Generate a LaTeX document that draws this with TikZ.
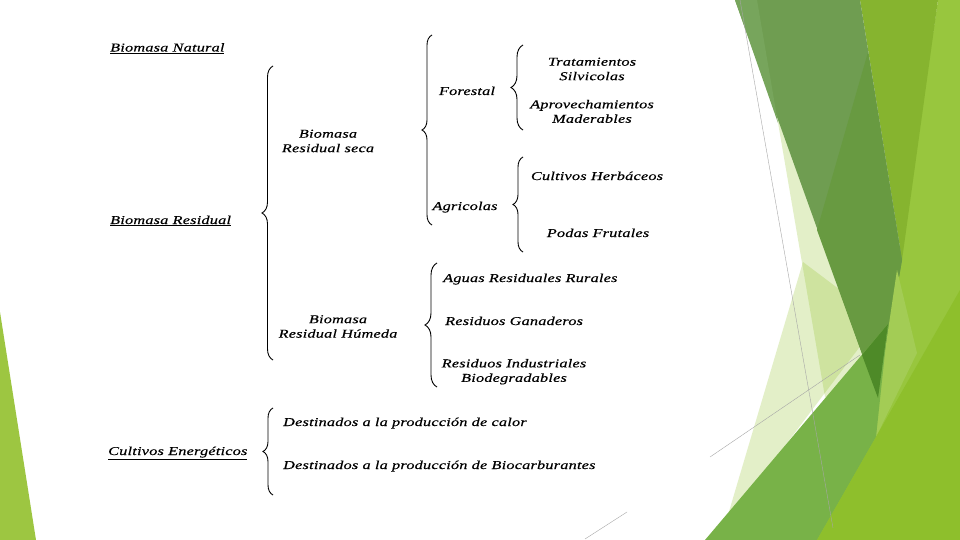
\documentclass[tikz,border=0pt]{standalone}
\usepackage{fontspec}
\setmainfont{Liberation Serif}
\newfontfamily\slidefont[FakeStretch=1.35, LetterSpace=2, FakeBold=0.4]{Liberation Serif}
\usetikzlibrary{decorations.pathreplacing}

\definecolor{leftgreen}{HTML}{9DC641}
\definecolor{midgreen}{HTML}{6F9D51}
\definecolor{midlight}{HTML}{77A55C}
\definecolor{middark}{HTML}{689A41}
\definecolor{yelgreen}{HTML}{86B42F}
\definecolor{lightgreen}{HTML}{98C63E}
\definecolor{bandgreen}{HTML}{78B248}
\definecolor{bottomgreen}{HTML}{8EBF2C}
\definecolor{darktip}{HTML}{4E8A28}
\definecolor{spotgreen}{HTML}{A3CC55}
\definecolor{palegreen}{HTML}{90C226}

\tikzset{
  lbl/.style={font=\slidefont\itshape\fontsize{12}{14.5}\selectfont, inner sep=0pt, align=center},
  curly/.style={decorate, decoration={brace, amplitude=#1}, line width=0.9pt},
  curly/.default=10pt,
  pale/.style={fill=palegreen, fill opacity=0.25},
  hair/.style={draw=black!35, line width=0.4pt}
}

\begin{document}
\begin{tikzpicture}[x=1pt,y=-1pt]
            \useasboundingbox (0,0) rectangle (960,540);
            \fill[white] (0,0) rectangle (960,540);

            % facet shapes
            \fill[leftgreen] (0,312) -- (36,540) -- (0,540) -- cycle;
            \fill[lightgreen] (938,0) -- (960,0) -- (960,540) -- (800,540) -- (878,398) -- cycle;
            \fill[pale] (757,0) -- (860,0) -- (880,398) -- (825,397) -- cycle;
            \fill[pale] (803,262) -- (880,320) -- (725,525) -- cycle;
            \fill[yelgreen] (860,0) -- (938,0) -- (902,260) -- cycle;
            \fill[midgreen] (735,0) -- (860,0) -- (902,260) -- (878,398) -- cycle;
            \fill[midlight] (735,0) -- (757,0) -- (778,123) -- cycle;
            \fill[middark] (868,52) -- (902,260) -- (878,398) -- (817,230) -- cycle;
            \fill[spotgreen] (897,270) -- (917,353) -- (876,437) -- (878,398) -- cycle;
            \fill[bandgreen] (705,540) -- (888,324) -- (876,437) -- (817,540) -- cycle;
            \fill[darktip] (862,355) -- (888,324) -- (878,398) -- cycle;
            \fill[bottomgreen] (960,290) -- (960,540) -- (817,540) -- cycle;
            \draw[hair] (740,0) -- (833,528);
            \draw[hair] (710,457) -- (860,355);
            \draw[hair] (585,539) -- (627,512);

            % left column
            \node[lbl, anchor=base west] (nat) at (110,51.5) {\underline{Biomasa Natural}};
            \node[lbl, anchor=base west] (res) at (110,224) {\underline{Biomasa Residual}};
            \node[lbl, anchor=base west] (cultene) at (108,455) {\underline{Cultivos Energéticos}};

            % second column
            \node[lbl] (seca) at (328,141) {Biomasa\\Residual seca};
            \node[lbl] (humeda) at (338,326.5) {Biomasa\\Residual Húmeda};
            \node[lbl, anchor=base west] (calor) at (283,426) {Destinados a la producción de calor};
            \node[lbl, anchor=base west] (biocarb) at (283,469) {Destinados a la producción de Biocarburantes};

            % third column
            \node[lbl, anchor=base] (forestal) at (467,95) {Forestal};
            \node[lbl, anchor=base] (agric) at (465,210) {Agricolas};
            \node[lbl, anchor=base west] (aguas) at (443,282) {Aguas Residuales Rurales};
            \node[lbl, anchor=base west] (ganad) at (445,325) {Residuos Ganaderos};
            \node[lbl] (indust) at (514,371.7) {Residuos Industriales\\Biodegradables};

            % fourth column
            \node[lbl] (trat) at (592,69) {Tratamientos\\Silvicolas};
            \node[lbl] (aprov) at (592,111.4) {Aprovechamientos\\Maderables};
            \node[lbl, anchor=base] (cultherb) at (597,180) {Cultivos Herbáceos};
            \node[lbl, anchor=base] (podas) at (598,237) {Podas Frutales};

            % braces
            \foreach \x/\top/\bot/\amp in {273/66/360/11, 432/35/225/10, 523/45/130/12,
                                           523/157/252/10, 437/263/387/12, 273/408/495/10}
                \draw[curly=\amp pt] (\x,\bot) -- (\x,\top);
        \end{tikzpicture}
\end{document}
